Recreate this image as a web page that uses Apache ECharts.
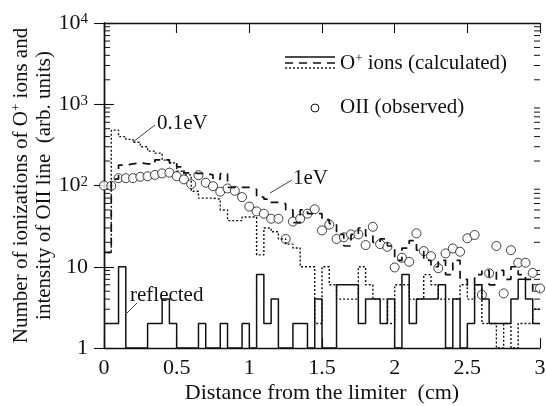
<!DOCTYPE html>
<html><head><meta charset="utf-8">
<script src="https://cdn.jsdelivr.net/npm/echarts@6.0.0/dist/echarts.min.js"></script>
<style>html,body{margin:0;padding:0;background:#fff}#c{width:546px;height:406px}</style>
</head><body><div id="c"></div>
<script>
const FONT = '"Liberation Serif","Times New Roman",serif';
const INK = '#111';

// histogram bins: left edges 0, 0.05, ..., 2.95 (width 0.05 cm)
const binStart = 0;
const binWidth = 0.05;
const binCount = 60;

// solid line: reflected O+ ions
const reflected = [
  2, 2, 10, 1, 1, 1, 2, 2, 4, 2,
  1, 1, 1, 2, 1, 1, 2, 1, 1, 2,
  1, 8, 2, 4, 1, 1, 2, 2, 1, 4,
  1, 1, 6, 6, 6, 2, 4, 4, 2, 4,
  1, 8, 2, 4, 4, 4, 6, 1, 4, 1,
  2, 6, 4, 2, 2, 2, 4, 7, 4, 2
];
// dashed line: 1 eV
const ions1eV = [
  15, 120, 178, 185, 190, 185, 184, 207, 207, 190,
  170, 143, 141, 141, 135, 120, 140, 95, 95, 95,
  90, 72, 68, 62, 60, 50, 35, 50, 45, 45,
  38, 34, 25, 18, 25, 30, 24, 20, 22, 18,
  12, 17, 21, 16, 12, 10, 12, 8, 12, 7,
  6, 8, 9, 6, 9, 7, 10, 8, 7, 5
];
// dotted line: 0.1 eV
const ions01eV = [
  15, 480, 400, 370, 340, 300, 265, 250, 205, 190,
  150, 135, 85, 70, 70, 68, 50, 37, 37, 41,
  41, 14, 30, 27, 22, 19, 17, 10, 10, 2,
  10, 6, 4, 4, 4, 10, 6, 4, 4, 2,
  6, 6, 4, 4, 8, 6, 4, 4, 4, 6,
  4, 6, 2, 2, 1, 2, 1, 2, 2, 3
];
// circles: OII observed, at x = 0, 0.05, ..., 3.0
const obsStep = 0.05;
const observed = [
  100, 99, 123, 123, 123, 128, 130, 135, 141, 144,
  130, 119, 104, 134, 108, 98, 84, 92, 86, 72,
  55, 48, 45, 39, 39, 22, 36, 39, 45, 51,
  28, 33, 22, 23, 25, 25, 18.5, 31, 19, 17.6,
  9.8, 12.9, 11.5, 25.8, 15.6, 13.5, 9.6, 14.6, 16.8, 15.3,
  22.4, 24.6, 4.5, 8.3, 18, 4.7, 16, 11.2, 11.2, 8.4,
  5.4
];
const minorTickValues = [];
for (let d = 1; d < 10000; d *= 10) for (let k = 2; k <= 9; k++) minorTickValues.push(k * d);

function r(x) { return Math.round(x * 1000) / 1000; }
function histData(vals) {
  const out = vals.map((v, i) => [r(binStart + i * binWidth), v]);
  out.push([r(binStart + binCount * binWidth), vals[vals.length - 1]]);
  return out;
}
const obsData = observed.map((v, i) => [r(i * obsStep), v]);

const chart = echarts.init(document.getElementById('c'), null, {renderer: 'canvas'});
const axisLine = {show: true, lineStyle: {color: INK, width: 1.4}};
const labelStyle = {fontFamily: FONT, fontSize: 22, color: INK};

chart.setOption({
  animation: false,
  backgroundColor: '#fff',
  grid: {left: 104, right: 6, top: 23, bottom: 58, containLabel: false, outerBoundsMode: 'none'},
  xAxis: [{
    type: 'value', min: 0, max: 3, interval: 0.5, position: 'bottom',
    axisLine: axisLine,
    axisTick: {inside: true, length: 10, lineStyle: {color: INK, width: 1.1}},
    axisLabel: Object.assign({margin: 9}, labelStyle),
    splitLine: {show: false},
    name: 'Distance from the limiter  (cm)', nameLocation: 'middle', nameGap: 34, nameMoveOverlap: false,
    nameTextStyle: labelStyle
  }, {
    type: 'value', min: 0, max: 3, interval: 0.5, position: 'top',
    axisLine: axisLine,
    axisTick: {inside: true, length: 10, lineStyle: {color: INK, width: 1.1}},
    axisLabel: {show: false}, splitLine: {show: false}
  }],
  yAxis: [{
    type: 'log', logBase: 10, min: 1, max: 10000, position: 'left',
    axisLine: axisLine,
    axisTick: {inside: true, length: 10, lineStyle: {color: INK, width: 1.1}},
    axisLabel: Object.assign({
      margin: 16,
      formatter: function (v) {
        if (v === 1) return '1';
        if (v === 10) return '10';
        return '10{sup|' + Math.round(Math.log10(v)) + '}';
      },
      rich: {sup: {fontFamily: FONT, fontSize: 15, color: INK, verticalAlign: 'top'}}
    }, labelStyle),
    splitLine: {show: false},
    name: 'Number of ionizations of O{sup|+} ions and\nintensity of OII line  (arb. units)',
    nameLocation: 'middle', nameRotate: 90, nameGap: 48, nameMoveOverlap: false,
    nameTextStyle: Object.assign({lineHeight: 23, rich: {sup: {fontFamily: FONT, fontSize: 13, color: INK, verticalAlign: 'top'}}},
      {fontFamily: FONT, fontSize: 21, color: INK})
  }, {
    type: 'log', logBase: 10, min: 1, max: 10000, position: 'right',
    axisLine: axisLine,
    axisTick: {inside: true, length: 10, lineStyle: {color: INK, width: 1.1}},
    axisLabel: {show: false}, splitLine: {show: false}
  }],
  series: [{
    type: 'custom', silent: true, clip: false,
    renderItem: function (params, api) {
      const v = api.value(1);
      const pl = api.coord([0, v]);
      const pr = api.coord([3, v]);
      return {type: 'group', children: [
        {type: 'line', shape: {x1: pl[0], y1: pl[1], x2: pl[0] + 6, y2: pl[1]}, style: {stroke: INK, lineWidth: 1}},
        {type: 'line', shape: {x1: pr[0] - 6, y1: pr[1], x2: pr[0], y2: pr[1]}, style: {stroke: INK, lineWidth: 1}}
      ]};
    },
    data: minorTickValues.map(v => [0, v])
  }, {
    name: 'reflected', type: 'line', step: 'end', showSymbol: false, symbol: 'none',
    data: histData(reflected), lineStyle: {color: INK, width: 1.5, type: 'solid'}
  }, {
    name: '1eV', type: 'line', step: 'end', showSymbol: false, symbol: 'none',
    data: histData(ions1eV), lineStyle: {color: INK, width: 1.7, type: [8, 6]}
  }, {
    name: '0.1eV', type: 'line', step: 'end', showSymbol: false, symbol: 'none',
    data: histData(ions01eV), lineStyle: {color: INK, width: 1.4, type: [2, 2]}
  }, {
    name: 'OII (observed)', type: 'scatter', clip: false, symbol: 'circle', symbolSize: 9,
    data: obsData, itemStyle: {color: '#fff', borderColor: INK, borderWidth: 1}
  }],
  graphic: [
    // legend
    {type: 'line', shape: {x1: 285, y1: 57, x2: 335, y2: 57}, style: {stroke: INK, lineWidth: 1.5}},
    {type: 'line', shape: {x1: 285, y1: 63, x2: 335, y2: 63}, style: {stroke: INK, lineWidth: 1.7, lineDash: [8, 6]}},
    {type: 'line', shape: {x1: 285, y1: 68, x2: 335, y2: 68}, style: {stroke: INK, lineWidth: 1.4, lineDash: [2, 2]}},
    {type: 'text', style: {x: 340, y: 63, text: 'O{sup|+} ions (calculated)', font: '21px ' + FONT, fill: INK,
      align: 'left', verticalAlign: 'middle', textAlign: 'left', textVerticalAlign: 'middle',
      rich: {sup: {fontFamily: FONT, fontSize: 13, fill: INK, verticalAlign: 'top'}}}},
    {type: 'circle', shape: {cx: 315, cy: 108, r: 4}, style: {fill: '#fff', stroke: INK, lineWidth: 1}},
    {type: 'text', style: {x: 340, y: 107, text: 'OII (observed)', font: '21px ' + FONT, fill: INK,
      align: 'left', verticalAlign: 'middle', textAlign: 'left', textVerticalAlign: 'middle'}},
    // annotations
    {type: 'line', shape: {x1: 133, y1: 142, x2: 155, y2: 125}, style: {stroke: INK, lineWidth: 0.8}},
    {type: 'text', style: {x: 157, y: 123, text: '0.1eV', font: '21px ' + FONT, fill: INK,
      align: 'left', verticalAlign: 'middle', textAlign: 'left', textVerticalAlign: 'middle'}},
    {type: 'line', shape: {x1: 270, y1: 193, x2: 292, y2: 180}, style: {stroke: INK, lineWidth: 0.8}},
    {type: 'text', style: {x: 293, y: 178, text: '1eV', font: '21px ' + FONT, fill: INK,
      align: 'left', verticalAlign: 'middle', textAlign: 'left', textVerticalAlign: 'middle'}},
    {type: 'line', shape: {x1: 127, y1: 313, x2: 137, y2: 303}, style: {stroke: INK, lineWidth: 0.8}},
    {type: 'text', style: {x: 130, y: 295, text: 'reflected', font: '21px ' + FONT, fill: INK,
      align: 'left', verticalAlign: 'middle', textAlign: 'left', textVerticalAlign: 'middle'}}
  ]
});
</script>
</body></html>
